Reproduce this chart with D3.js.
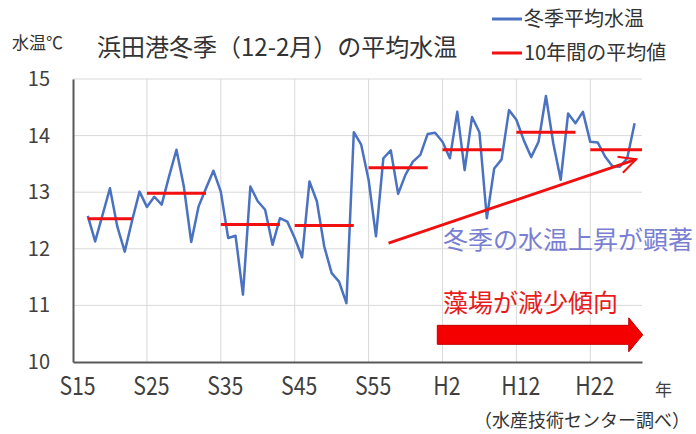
<!DOCTYPE html>
<html>
<head>
<meta charset="utf-8">
<script src="https://cdn.jsdelivr.net/npm/d3@7"></script>
<style>
  body { margin: 0; background: #fff; }
  svg { display: block; font-family: "Noto Sans CJK JP", "Noto Sans", sans-serif; }
</style>
</head>
<body>
<div id="chart"></div>
<script>
// Winter (Dec-Feb) mean water temperature, Hamada port, 1942-2016
const years = d3.range(1942, 2017);
const temps = [
  12.58, 12.13, 12.6, 13.07, 12.39, 11.95, 12.5, 13.01,
  12.74, 12.92, 12.78, 13.28, 13.75, 13.1, 12.12, 12.75, 13.07, 13.38,
  13.01, 12.19, 12.23, 11.19, 13.1, 12.84, 12.69, 12.07, 12.54, 12.48,
  12.19, 11.85, 13.19, 12.84, 12.04, 11.57, 11.42, 11.04, 14.06, 13.84,
  13.22, 12.22, 13.6, 13.74, 12.97, 13.31, 13.54, 13.66, 14.03, 14.05,
  13.89, 13.6, 14.42, 13.39, 14.33, 14.06, 12.54, 13.42, 13.58, 14.45,
  14.28, 13.92, 13.62, 13.89, 14.7, 13.86, 13.22, 14.39, 14.22, 14.42,
  13.89, 13.88, 13.63, 13.46, 13.45, 13.6, 14.22
];

// 10-year averages (start year, end year, value)
const avgStart = [1942, 1950, 1960, 1970, 1980, 1990, 2000, 2010];
const avgEnd = [1948, 1958, 1968, 1978, 1988, 1998, 2008, 2017];
const avgValue = [12.53, 12.98, 12.43, 12.41, 13.43, 13.75, 14.06, 13.75];

const tickYears = [1940, 1950, 1960, 1970, 1980, 1990, 2000, 2010];
const tickLabels = ["S15", "S25", "S35", "S45", "S55", "H2", "H12", "H22"];
const yTicks = [10, 11, 12, 13, 14, 15];

const width = 696;
const height = 434;
const margin = { top: 79, right: 54, bottom: 72, left: 73 };

const blue = "#4a72c0";
const red = "#f01010";

const svg = d3.select("#chart")
  .append("svg")
  .attr("width", width)
  .attr("height", height)
  .attr("viewBox", [0, 0, width, height]);

const x = d3.scaleLinear()
  .domain([1940, 2017])
  .range([margin.left, width - margin.right]);

const y = d3.scaleLinear()
  .domain([10, 15])
  .range([height - margin.bottom, margin.top]);

// Gridlines
svg.append("g")
  .attr("stroke", "#d9d9d9")
  .attr("stroke-width", 1)
  .selectAll("line.h")
  .data(yTicks.slice(1))
  .join("line")
  .attr("x1", x(1940)).attr("x2", x(2017))
  .attr("y1", d => y(d)).attr("y2", d => y(d));

svg.append("g")
  .attr("stroke", "#d9d9d9")
  .attr("stroke-width", 1)
  .selectAll("line.v")
  .data(tickYears.slice(1))
  .join("line")
  .attr("x1", d => x(d)).attr("x2", d => x(d))
  .attr("y1", y(10)).attr("y2", y(15));

// Axes
const yAxis = svg.append("g")
  .attr("transform", `translate(${x(1940)},0)`)
  .call(d3.axisLeft(y).tickValues(yTicks).tickFormat(d3.format("d")).tickSize(0).tickPadding(23));
yAxis.select(".domain").attr("stroke", "#595959").attr("stroke-width", 2);
yAxis.selectAll("text")
  .attr("font-size", 20)
  .attr("fill", "#404040")
  .attr("font-family", "'Noto Sans CJK JP', sans-serif");

const xAxis = svg.append("g")
  .attr("transform", `translate(0,${y(10)})`)
  .call(d3.axisBottom(x).tickValues(tickYears).tickFormat((d, i) => tickLabels[i]).tickSize(0).tickPadding(0));
xAxis.select(".domain").attr("stroke", "#595959").attr("stroke-width", 2);
xAxis.selectAll("text")
  .attr("font-size", 25)
  .attr("fill", "#404040")
  .attr("font-family", "'Noto Sans CJK JP', sans-serif")
  .attr("dy", null)
  .attr("y", 0)
  .attr("transform", "translate(4,33) scale(0.85,1)");

// Series line
const line = d3.line()
  .x((d, i) => x(years[i]))
  .y(d => y(d));

svg.append("path")
  .datum(temps)
  .attr("fill", "none")
  .attr("stroke", blue)
  .attr("stroke-width", 2.5)
  .attr("stroke-linejoin", "round")
  .attr("d", line);

// 10-year averages
svg.append("g")
  .attr("stroke", red)
  .attr("stroke-width", 3)
  .selectAll("line")
  .data(avgValue)
  .join("line")
  .attr("x1", (d, i) => x(avgStart[i]))
  .attr("x2", (d, i) => x(avgEnd[i]))
  .attr("y1", d => y(d))
  .attr("y2", d => y(d));

// Trend arrow
svg.append("defs").append("marker")
  .attr("id", "head")
  .attr("viewBox", "0 0 10 10")
  .attr("refX", 9).attr("refY", 5)
  .attr("markerWidth", 7).attr("markerHeight", 7)
  .attr("markerUnits", "strokeWidth")
  .attr("orient", "auto")
  .append("path")
  .attr("d", "M1,1 L9,5 L1,9")
  .attr("fill", "none")
  .attr("stroke", red)
  .attr("stroke-width", 1);

svg.append("line")
  .attr("x1", x(1982.7)).attr("y1", y(12.1))
  .attr("x2", x(2016.2)).attr("y2", y(13.58))
  .attr("stroke", red)
  .attr("stroke-width", 3)
  .attr("marker-end", "url(#head)");

// Big block arrow
const ax0 = x(1989.3), ax1 = x(2017.1), acy = y(10.48);
const headLen = 14, shaftH = 9.5, headH = 17;
svg.append("path")
  .attr("d", `M${ax0},${acy - shaftH} L${ax1 - headLen},${acy - shaftH} L${ax1 - headLen},${acy - headH}
    L${ax1},${acy} L${ax1 - headLen},${acy + headH} L${ax1 - headLen},${acy + shaftH} L${ax0},${acy + shaftH} Z`)
  .attr("fill", "#f40000")
  .attr("stroke", "#c00000")
  .attr("stroke-width", 1);

// Annotation texts
svg.append("text")
  .attr("x", 443).attr("y", 249)
  .attr("font-size", 25)
  .attr("fill", "#7a7fd2")
  .text("冬季の水温上昇が顕著");

svg.append("text")
  .attr("x", 443).attr("y", 312)
  .attr("font-size", 25)
  .attr("fill", "#e81c1c")
  .text("藻場が減少傾向");

// Title and labels
svg.append("text")
  .attr("x", 97).attr("y", 56)
  .attr("font-size", 24)
  .attr("fill", "#333")
  .text("浜田港冬季（12-2月）の平均水温");

svg.append("text")
  .attr("x", 12).attr("y", 49)
  .attr("font-size", 17)
  .attr("fill", "#333")
  .text("水温℃");

svg.append("text")
  .attr("x", 655).attr("y", 396)
  .attr("font-size", 17)
  .attr("fill", "#404040")
  .text("年");

svg.append("text")
  .attr("x", 690).attr("y", 427)
  .attr("text-anchor", "end")
  .attr("font-size", 18)
  .attr("fill", "#333")
  .text("（水産技術センター調べ）");

// Legend
const legendItems = ["冬季平均水温", "10年間の平均値"];
const legendColors = [blue, red];
const legend = svg.append("g")
  .selectAll("g")
  .data(legendItems)
  .join("g")
  .attr("transform", (d, i) => `translate(492,${19 + i * 34})`);
legend.append("line")
  .attr("x1", 0).attr("x2", 30)
  .attr("stroke", (d, i) => legendColors[i])
  .attr("stroke-width", 3);
legend.append("text")
  .attr("x", 32).attr("y", 7)
  .attr("font-size", 20)
  .attr("fill", "#333")
  .text(d => d);
</script>
</body>
</html>
